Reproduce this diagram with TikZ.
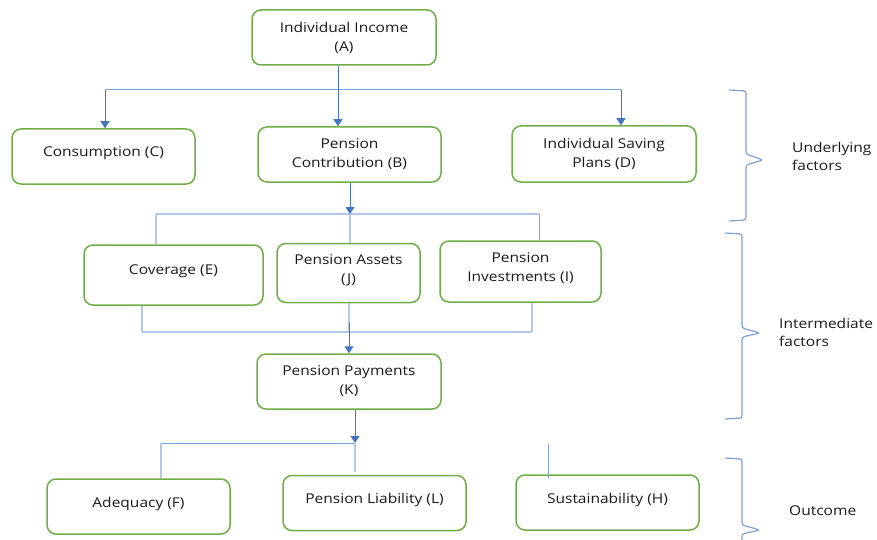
\documentclass[tikz,border=0pt]{standalone}
\usepackage{fontspec}
\setmainfont{Open Sans}[FakeStretch=1.15]
\usetikzlibrary{arrows.meta}
\definecolor{boxgreen}{HTML}{70AD47}
\definecolor{arrblue}{HTML}{4472C4}
\definecolor{midblue}{HTML}{7F9FD9}
\definecolor{paleblue}{HTML}{B4C7E7}
\definecolor{txt}{HTML}{1A1A1A}
\tikzset{
  box/.style={draw=boxgreen, line width=1.5pt, rounded corners=9pt, align=center,
    font=\fontsize{13.5}{19}\selectfont, text=txt, inner sep=0pt},
  arr/.style={draw=arrblue, line width=1pt, -{Triangle[width=9pt,length=7pt]}},
  dline/.style={draw=arrblue, line width=1pt},
  mline/.style={draw=midblue, line width=1pt},
  pline/.style={draw=paleblue, line width=1.2pt},
  bracecol/.style={draw=midblue, line width=1.2pt, rounded corners=2.5pt},
  side/.style={anchor=west, align=left, font=\fontsize{13.5}{18}\selectfont, text=txt, inner sep=0pt}
}
\begin{document}
\begin{tikzpicture}[x=1pt,y=-1pt]
\useasboundingbox (0,0) rectangle (877,540);
% boxes
\node[box, minimum width=184pt, minimum height=55pt] (A) at (344,37.5) {Individual Income\\(A)};
\node[box, minimum width=183pt, minimum height=55pt, text depth=10pt] (C) at (103.5,156.5) {Consumption (C)};
\node[box, minimum width=183pt, minimum height=55pt] (B) at (349.5,154.5) {Pension\\Contribution (B)};
\node[box, minimum width=184pt, minimum height=56pt] (D) at (604,154) {Individual Saving\\Plans (D)};
\node[box, minimum width=179pt, minimum height=60pt, text depth=10pt] (E) at (173.5,275) {Coverage (E)};
\node[box, minimum width=143pt, minimum height=59pt, text depth=8pt] (J) at (348.5,273) {Pension Assets\\(J)};
\node[box, minimum width=161pt, minimum height=61pt, text depth=8pt] (I) at (520.5,271.5) {Pension\\Investments (I)};
\node[box, minimum width=184pt, minimum height=55pt] (K) at (349,381.5) {Pension Payments\\(K)};
\node[box, minimum width=183pt, minimum height=55pt, text depth=9pt] (F) at (138.5,506.5) {Adequacy (F)};
\node[box, minimum width=183pt, minimum height=55pt, text depth=10pt] (L) at (374.5,503) {Pension Liability (L)};
\node[box, minimum width=183pt, minimum height=55pt, text depth=9pt] (H) at (607.5,502.5) {Sustainability (H)};
% level 1 connectors
\coordinate (j1) at (338,90);
\coordinate (cl) at (105,90);
\coordinate (dr) at (621,90);
\draw[mline] (cl) -- (dr);
\draw[arr] (A.south -| j1) -- (B.north -| j1);
\draw[arr] (cl) -- (cl |- C.north);
\draw[arr] (dr) -- (dr |- D.north);
% level 2 top connectors
\coordinate (j2) at (350,214);
\coordinate (el) at (156,214);
\coordinate (ir) at (539,214);
\draw[pline] (el) -- (ir);
\draw[pline] (el) -- (el |- E.north);
\draw[pline] (j2) -- (j2 |- J.north);
\draw[mline] (ir) -- (ir |- I.north);
\draw[arr] (B.south -| j2) -- (j2);
% level 2 bottom connectors
\coordinate (j3) at (349,332);
\coordinate (eb) at (142,332);
\coordinate (ib) at (532,332);
\draw[pline] (eb) -- (ib);
\draw[pline] (eb |- E.south) -- (eb);
\draw[pline] (ib |- I.south) -- (ib);
\draw[pline] (J.south -| j3) -- (j3);
\draw[arr] (349,323) -- (K.north -| j3);
% level 3 connectors
\coordinate (j4) at (355,443);
\coordinate (fl) at (161,443);
\draw[mline] (fl) -- (j4);
\draw[pline] (fl) -- (161,478);
\draw[pline] (j4) -- (355,472);
\draw[arr] (K.south -| j4) -- (j4);
\draw[mline] (548,444) -- (548 ,478);
% braces
\draw[bracecol] (729,90) -- (746,91) -- (746,154) -- (763,160) -- (746,165) -- (746,220) -- (729,221);
\draw[bracecol] (725,233) -- (742,234) -- (742,328) -- (760,333) -- (742,337) -- (742,418) -- (725,419);
\draw[bracecol] (725,458) -- (742,459) -- (742,525) -- (760,530) -- (742,534) -- (742,540);
% side labels
\node[side] (u) at (792,156) {Underlying\\factors};
\node[side] (m) at (779,332) {Intermediate\\factors};
\node[side] (o) at (789,511) {Outcome};
\end{tikzpicture}
\end{document}
